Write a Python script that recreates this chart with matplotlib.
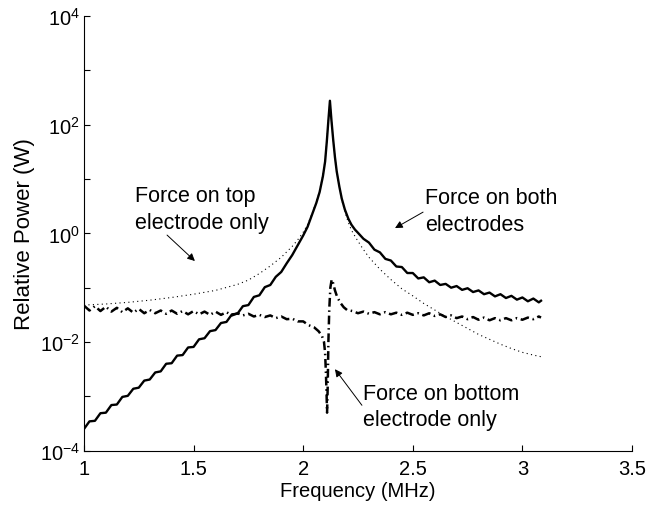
import numpy as np
import matplotlib
matplotlib.use("Agg")
import matplotlib.pyplot as plt

plt.rcParams['font.family'] = ['Liberation Sans', 'DejaVu Sans']
plt.rcParams['mathtext.fontset'] = 'custom'
plt.rcParams['mathtext.rm'] = 'Liberation Sans'
plt.rcParams['mathtext.it'] = 'Liberation Sans:italic'
plt.rcParams['mathtext.bf'] = 'Liberation Sans:bold'

# ================= DATA (log10 of relative power) =================
# force on both electrodes (solid)
both_freq = [1.000, 1.025, 1.050, 1.075, 1.100, 1.125, 1.150, 1.175, 1.200, 1.225,
             1.250, 1.275, 1.300, 1.325, 1.350, 1.375, 1.400, 1.425, 1.450, 1.475,
             1.500, 1.525, 1.550, 1.575, 1.600, 1.625, 1.650, 1.675, 1.700, 1.725,
             1.750, 1.775, 1.800, 1.825, 1.850, 1.875, 1.900, 1.925, 1.950, 1.975,
             2.000, 2.020, 2.040, 2.060, 2.075, 2.090, 2.100, 2.108, 2.115, 2.122,
             2.129, 2.137, 2.145, 2.153, 2.165, 2.176, 2.190, 2.206, 2.220, 2.236,
             2.250, 2.275, 2.300, 2.325, 2.350, 2.375, 2.400, 2.425, 2.450, 2.475,
             2.500, 2.525, 2.550, 2.575, 2.600, 2.625, 2.650, 2.675, 2.700, 2.725,
             2.750, 2.775, 2.800, 2.825, 2.850, 2.875, 2.900, 2.925, 2.950, 2.975,
             3.000, 3.025, 3.050, 3.075, 3.085]
both_exp = [-3.60, -3.46, -3.45, -3.31, -3.30, -3.16, -3.15, -3.01, -2.99, -2.86,
            -2.84, -2.71, -2.69, -2.56, -2.54, -2.40, -2.39, -2.25, -2.24, -2.10,
            -2.09, -1.95, -1.93, -1.80, -1.78, -1.65, -1.63, -1.49, -1.48, -1.34,
            -1.32, -1.17, -1.14, -0.99, -0.95, -0.80, -0.71, -0.55, -0.40, -0.22,
            -0.04, 0.12, 0.34, 0.56, 0.76, 1.05, 1.32, 1.70, 2.08, 2.44,
            2.08, 1.72, 1.40, 1.14, 0.86, 0.64, 0.44, 0.27, 0.16, 0.07,
            0.01, -0.10, -0.17, -0.30, -0.35, -0.47, -0.50, -0.61, -0.62, -0.73,
            -0.73, -0.83, -0.81, -0.90, -0.87, -0.95, -0.93, -1.00, -0.97, -1.04,
            -1.01, -1.08, -1.05, -1.12, -1.09, -1.16, -1.12, -1.19, -1.15, -1.22,
            -1.18, -1.25, -1.20, -1.27, -1.24]

# force on top electrode only (dotted)
top_freq = [1.00, 1.10, 1.20, 1.30, 1.40, 1.50, 1.60, 1.70, 1.75, 1.80,
            1.85, 1.90, 1.95, 1.975, 2.00, 2.02, 2.04, 2.06, 2.075, 2.09,
            2.10, 2.108, 2.115, 2.122, 2.129, 2.137, 2.145, 2.153, 2.165, 2.176,
            2.19, 2.206, 2.22, 2.24, 2.27, 2.30, 2.35, 2.40, 2.45, 2.50,
            2.55, 2.60, 2.65, 2.70, 2.75, 2.80, 2.85, 2.90, 2.95, 3.00,
            3.05, 3.085]
top_exp = [-1.32, -1.30, -1.27, -1.23, -1.18, -1.12, -1.05, -0.94, -0.86, -0.74,
           -0.60, -0.44, -0.24, -0.12, 0.02, 0.16, 0.36, 0.58, 0.78, 1.07,
           1.34, 1.71, 2.08, 2.42, 2.08, 1.72, 1.40, 1.14, 0.85, 0.62,
           0.40, 0.20, 0.06, -0.08, -0.27, -0.44, -0.66, -0.85, -1.02, -1.15,
           -1.29, -1.41, -1.53, -1.64, -1.75, -1.86, -1.95, -2.04, -2.12, -2.19,
           -2.24, -2.27]

# force on bottom electrode only (dash-dot)
bot_freq = [1.000, 1.025, 1.050, 1.075, 1.100, 1.125, 1.150, 1.175, 1.200, 1.225,
            1.250, 1.275, 1.300, 1.325, 1.350, 1.375, 1.400, 1.425, 1.450, 1.475,
            1.500, 1.525, 1.550, 1.575, 1.600, 1.625, 1.650, 1.675, 1.700, 1.725,
            1.750, 1.775, 1.800, 1.825, 1.850, 1.875, 1.900, 1.925, 1.950, 1.975,
            2.000, 2.025, 2.050, 2.070, 2.085, 2.095, 2.100, 2.104, 2.107, 2.109,
            2.112, 2.115, 2.119, 2.124, 2.130, 2.137, 2.145, 2.155, 2.170, 2.185,
            2.200, 2.225, 2.250, 2.275, 2.300, 2.325, 2.350, 2.375, 2.400, 2.425,
            2.450, 2.475, 2.500, 2.525, 2.550, 2.575, 2.600, 2.625, 2.650, 2.675,
            2.700, 2.725, 2.750, 2.775, 2.800, 2.825, 2.850, 2.875, 2.900, 2.925,
            2.950, 2.975, 3.000, 3.025, 3.050, 3.075, 3.085]
bot_exp = [-1.33, -1.42, -1.34, -1.43, -1.35, -1.44, -1.37, -1.45, -1.38, -1.46,
           -1.39, -1.47, -1.41, -1.47, -1.42, -1.48, -1.42, -1.48, -1.43, -1.49,
           -1.43, -1.49, -1.44, -1.50, -1.44, -1.50, -1.45, -1.51, -1.47, -1.51,
           -1.48, -1.53, -1.50, -1.54, -1.51, -1.56, -1.53, -1.58, -1.57, -1.62,
           -1.62, -1.69, -1.73, -1.80, -1.88, -2.00, -2.20, -2.60, -3.00, -3.30,
           -2.80, -2.00, -1.40, -1.00, -0.85, -0.92, -1.05, -1.17, -1.28, -1.36,
           -1.41, -1.43, -1.47, -1.44, -1.48, -1.45, -1.49, -1.45, -1.49, -1.46,
           -1.50, -1.46, -1.50, -1.47, -1.51, -1.47, -1.52, -1.49, -1.54, -1.51,
           -1.56, -1.53, -1.58, -1.54, -1.59, -1.55, -1.60, -1.56, -1.60, -1.56,
           -1.60, -1.56, -1.59, -1.55, -1.58, -1.53, -1.55]

x_ticks = [1, 1.5, 2, 2.5, 3, 3.5]
x_ticklabels = ['1', '1.5', '2', '2.5', '3', '3.5']
y_decades = [-4, -3, -2, -1, 0, 1, 2, 3, 4]

# ================= FIGURE =================
fig = plt.figure(figsize=(6.67, 5.06), dpi=100)
ax = fig.add_axes([0.1259, 0.1073, 0.8216, 0.8591])

ax.plot(top_freq, 10 ** np.array(top_exp), color='black', lw=0.8,
        linestyle=(0, (1, 3)))
ax.plot(bot_freq, 10 ** np.array(bot_exp), color='black', lw=1.8,
        linestyle=(0, (3.5, 1.5, 0.6, 1.5)))
ax.plot(both_freq, 10 ** np.array(both_exp), color='black', lw=1.7,
        solid_joinstyle='round')

ax.set_yscale('log')
ax.set_xlim(1, 3.5)
ax.set_ylim(1e-4, 1e4)

ax.set_xticks(x_ticks)
ax.set_xticklabels(x_ticklabels)
ax.set_yticks([10.0 ** d for d in y_decades])
ax.set_yticklabels([r'$\mathregular{10^{%d}}$' % d if d % 2 == 0 else ''
                    for d in y_decades])
ax.minorticks_off()

ax.spines['top'].set_visible(False)
ax.spines['right'].set_visible(False)
for s in ('left', 'bottom'):
    ax.spines[s].set_linewidth(0.8)

ax.tick_params(direction='in', length=4, width=0.8, labelsize=14.5)
ax.tick_params(axis='x', pad=6)
ax.tick_params(axis='y', pad=3)

ax.set_xlabel('Frequency (MHz)', fontsize=14.5, labelpad=2)
ax.set_ylabel('Relative Power (W)', fontsize=16, labelpad=3)

# ================= ANNOTATIONS =================
arrow = dict(arrowstyle='-|>', color='black', lw=0.7, mutation_scale=11,
             shrinkA=0, shrinkB=0)
note_kw = dict(fontsize=15.5, ha='left', va='center', linespacing=1.35)

ax.text(1.233, 2.8, 'Force on top\nelectrode only', **note_kw)
ax.annotate('', xy=(1.506, 0.31), xytext=(1.379, 0.93), arrowprops=arrow)

ax.text(2.556, 2.6, 'Force on both\nelectrodes', **note_kw)
ax.annotate('', xy=(2.419, 1.25), xytext=(2.547, 2.46), arrowprops=arrow)

ax.text(2.273, 10 ** -3.19, 'Force on bottom\nelectrode only', **note_kw)
ax.annotate('', xy=(2.145, 10 ** -2.50), xytext=(2.268, 10 ** -3.164),
            arrowprops=arrow)

fig.savefig('out.png', dpi=100)
